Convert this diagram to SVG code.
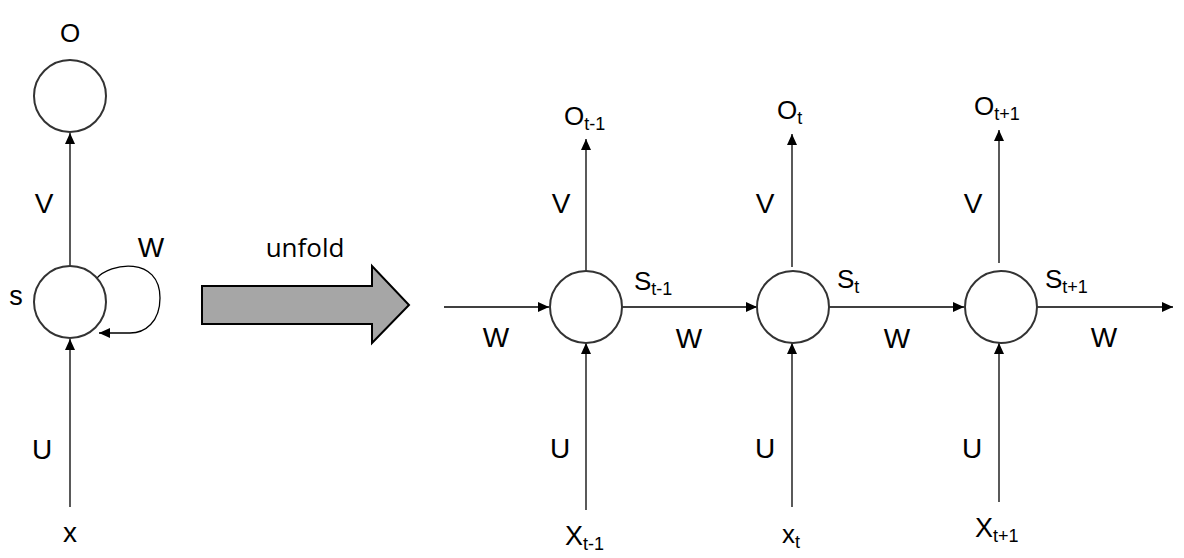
<svg xmlns="http://www.w3.org/2000/svg" width="1184" height="558" viewBox="0 0 1184 558">
<style>
  .node { fill: #ffffff; stroke: #333333; stroke-width: 2; }
  .edge { stroke: #000000; stroke-width: 1.3; fill: none; }
  .lbl { font-family: "Liberation Sans", Arial, sans-serif; fill: #000000; }
  .c { text-anchor: middle; }
</style>
<defs>
  <marker id="ah" markerUnits="userSpaceOnUse" markerWidth="11" markerHeight="10" refX="11" refY="5" orient="auto">
    <path d="M0,0 L11,5 L0,10 z" fill="#000000"/>
  </marker>
</defs>
<rect width="1184" height="558" fill="#ffffff"/>

<g id="connectors">
  <line class="edge" x1="70" y1="507" x2="70" y2="339" marker-end="url(#ah)"/>
  <line class="edge" x1="70" y1="267" x2="70" y2="133" marker-end="url(#ah)"/>
  <path class="edge" d="M96,279 C110,262 160,256 160,298 C160,322 145,333 130,333 L99,333" marker-end="url(#ah)"/>
  <line class="edge" x1="444" y1="307" x2="549" y2="307" marker-end="url(#ah)"/>
  <line class="edge" x1="586" y1="271" x2="586" y2="139" marker-end="url(#ah)"/>
  <line class="edge" x1="586" y1="510" x2="586" y2="343" marker-end="url(#ah)"/>
  <line class="edge" x1="622" y1="307" x2="757" y2="307" marker-end="url(#ah)"/>
  <line class="edge" x1="792" y1="267" x2="792" y2="134" marker-end="url(#ah)"/>
  <line class="edge" x1="792" y1="507" x2="792" y2="343" marker-end="url(#ah)"/>
  <line class="edge" x1="829" y1="307" x2="964" y2="307" marker-end="url(#ah)"/>
  <line class="edge" x1="999" y1="263" x2="999" y2="130" marker-end="url(#ah)"/>
  <line class="edge" x1="999" y1="502" x2="999" y2="343" marker-end="url(#ah)"/>
  <line class="edge" x1="1037" y1="307" x2="1173" y2="307" marker-end="url(#ah)"/>
</g>

<g id="node-o">
  <circle class="node" cx="70" cy="96" r="36"/>
  <text class="lbl c" x="70" y="42" font-size="26">O</text>
</g>
<g id="node-s">
  <circle class="node" cx="70" cy="302" r="36"/>
  <text class="lbl c" x="16" y="305" font-size="27">s</text>
</g>
<g id="label-left">
  <text class="lbl c" x="44" y="213" font-size="28">V</text>
  <text class="lbl c" x="151" y="257" font-size="28">W</text>
  <text class="lbl c" x="42" y="459" font-size="28">U</text>
  <text class="lbl c" x="70" y="542" font-size="28">x</text>
</g>

<g id="unfold-arrow">
  <polygon points="202,286 372,286 372,266 409,305 372,343 372,324 202,324" fill="#a6a6a6" stroke="#000000" stroke-width="2"/>
  <text x="305" y="257" font-size="26" text-anchor="middle" font-family="'Open Sans', 'Liberation Sans', sans-serif" fill="#000000">unfold</text>
</g>

<g id="node-s1">
  <circle class="node" cx="586" cy="307" r="36"/>
  <text class="lbl" x="634" y="290" font-size="26">S<tspan font-size="18" dy="5">t-1</tspan></text>
</g>
<g id="node-s2">
  <circle class="node" cx="793" cy="307" r="36"/>
  <text class="lbl" x="837" y="288" font-size="26">S<tspan font-size="18" dy="5">t</tspan></text>
</g>
<g id="node-s3">
  <circle class="node" cx="1001" cy="307" r="36"/>
  <text class="lbl" x="1045" y="288" font-size="26">S<tspan font-size="18" dy="5">t+1</tspan></text>
</g>

<g id="outputs">
  <text class="lbl" x="564" y="125" font-size="26">O<tspan font-size="18" dy="5">t-1</tspan></text>
  <text class="lbl" x="777" y="119" font-size="26">O<tspan font-size="18" dy="5">t</tspan></text>
  <text class="lbl" x="974" y="115" font-size="26">O<tspan font-size="18" dy="5">t+1</tspan></text>
</g>
<g id="inputs">
  <text class="lbl" x="565" y="545" font-size="27">X<tspan font-size="18" dy="5">t-1</tspan></text>
  <text class="lbl" x="782" y="543" font-size="26">x<tspan font-size="18" dy="5">t</tspan></text>
  <text class="lbl" x="975" y="537" font-size="27">X<tspan font-size="18" dy="5">t+1</tspan></text>
</g>
<g id="weight-labels">
  <text class="lbl c" x="561" y="213" font-size="28">V</text>
  <text class="lbl c" x="765" y="213" font-size="28">V</text>
  <text class="lbl c" x="973" y="213" font-size="28">V</text>
  <text class="lbl c" x="496" y="347" font-size="28">W</text>
  <text class="lbl c" x="689" y="348" font-size="28">W</text>
  <text class="lbl c" x="897" y="348" font-size="28">W</text>
  <text class="lbl c" x="1104" y="347" font-size="28">W</text>
  <text class="lbl c" x="560" y="458" font-size="28">U</text>
  <text class="lbl c" x="765" y="458" font-size="28">U</text>
  <text class="lbl c" x="972" y="458" font-size="28">U</text>
</g>
</svg>
